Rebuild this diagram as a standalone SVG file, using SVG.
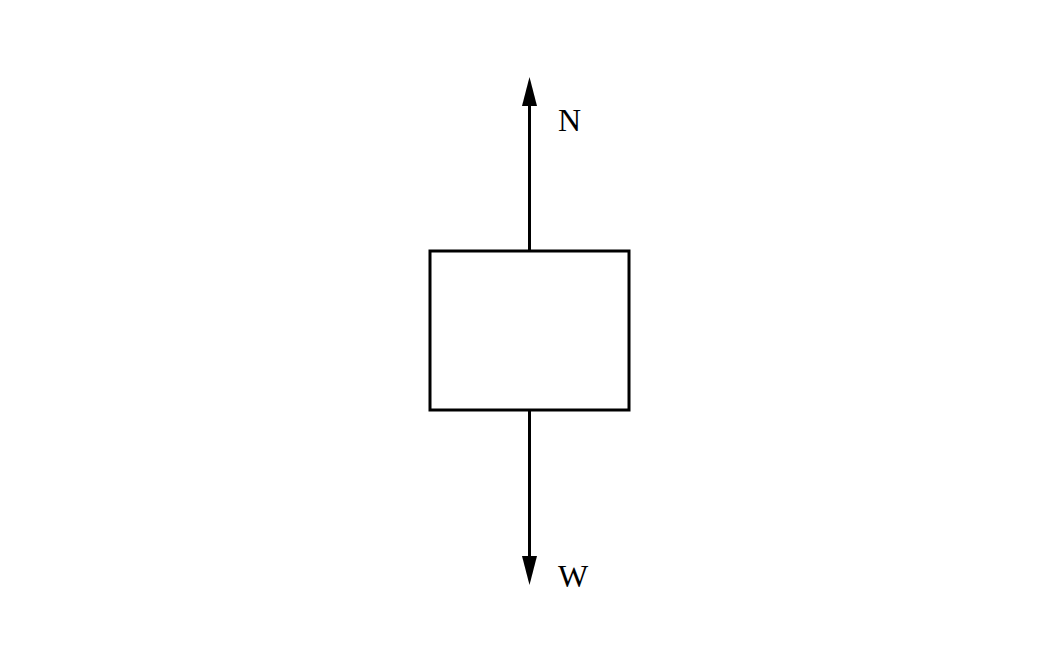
<svg xmlns="http://www.w3.org/2000/svg" width="1059" height="662" viewBox="0 0 1059 662">
<style>
.ln{stroke:#000;stroke-width:3;fill:none}
.lbl{font-family:"Liberation Serif",serif;font-size:32px;fill:#000}
</style>
<rect width="1059" height="662" fill="#fff"/>
<g id="connectors">
<line class="ln" x1="529.5" y1="251" x2="529.5" y2="100"/>
<polygon points="529.5,77 522,106 537,106" fill="#000"/>
<line class="ln" x1="529.5" y1="410" x2="529.5" y2="560"/>
<polygon points="529.5,585 522,556 537,556" fill="#000"/>
</g>
<g id="block">
<rect class="ln" x="430" y="251" width="199" height="159"/>
</g>
<g id="label-N"><text class="lbl" x="558" y="131">N</text></g>
<g id="label-W"><text class="lbl" x="558" y="587">W</text></g>
</svg>
